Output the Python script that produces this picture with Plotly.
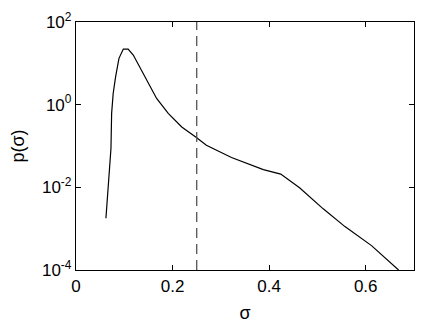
import plotly.graph_objects as go

# curve (sigma, log10 p(sigma))
sigma = [0.062, 0.0724, 0.0738, 0.077, 0.082, 0.089, 0.098, 0.108, 0.1186, 0.143,
         0.167, 0.191, 0.219, 0.250, 0.270, 0.322, 0.388, 0.424, 0.463, 0.512,
         0.557, 0.612, 0.668]
log_p = [-2.75, -1.06, -0.21, 0.27, 0.67, 1.12, 1.345, 1.345, 1.2, 0.67,
         0.15, -0.21, -0.54, -0.80, -0.98, -1.28, -1.57, -1.68, -2.01, -2.52,
         -2.95, -3.41, -4.0]
p = [10 ** v for v in log_p]

threshold = 0.25
x_ticks = [0, 0.2, 0.4, 0.6]
y_ticks = [1e-4, 1e-2, 1e0, 1e2]
y_ticktext = ["10<sup>-4</sup>", "10<sup>-2</sup>", "10<sup>0</sup>", "10<sup>2</sup>"]

fig = go.Figure()
fig.add_trace(go.Scatter(x=sigma, y=p, mode="lines",
                         line=dict(color="black", width=1.2), showlegend=False))
fig.add_trace(go.Scatter(x=[threshold, threshold], y=[1e-4, 1e2], mode="lines",
                         line=dict(color="#555555", width=1.3, dash="10px,6px"),
                         showlegend=False))

axis_common = dict(showgrid=False, zeroline=False, showline=True, linecolor="black",
                   linewidth=1.3, mirror="ticks", ticks="inside", ticklen=5,
                   tickcolor="black", tickfont=dict(size=17, color="black"),
                   automargin=False)

# the page body adds an 8px offset, so margins are shifted to compensate
fig.update_layout(
    width=436, height=327,
    margin=dict(l=68, r=30, t=14, b=65),
    paper_bgcolor="white", plot_bgcolor="white",
    font=dict(family="Liberation Sans, Arial, sans-serif", color="black"),
    xaxis=dict(range=[0, 0.7], tickvals=x_ticks, ticktext=["0", "0.2", "0.4", "0.6"],
               title=dict(text="σ", font=dict(size=18), standoff=11), **axis_common),
    yaxis=dict(type="log", range=[-4, 2], tickvals=y_ticks, ticktext=y_ticktext,
               title=dict(text="p(σ)", font=dict(size=18), standoff=17), **axis_common),
)

fig.write_html("out.html")
